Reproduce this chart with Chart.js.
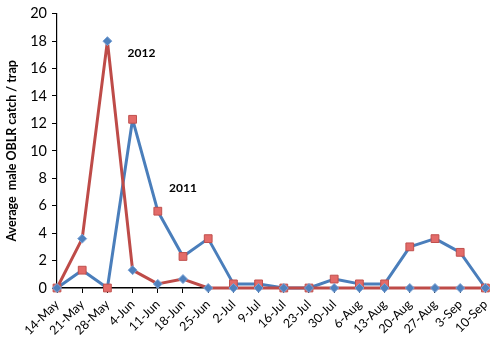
<!DOCTYPE html>
<html>
<head>
<meta charset="utf-8">
<script src="https://cdn.jsdelivr.net/npm/chart.js@4.4.1/dist/chart.umd.min.js"></script>
<style>
  html, body { margin: 0; padding: 0; background: #fff; }
  #wrap { position: relative; width: 500px; height: 342px; }
</style>
</head>
<body>
<div id="wrap"><canvas id="c" width="500" height="342"></canvas></div>
<script>
// Weekly trap dates
const weeks = ['14-May','21-May','28-May','4-Jun','11-Jun','18-Jun','25-Jun','2-Jul','9-Jul',
  '16-Jul','23-Jul','30-Jul','6-Aug','13-Aug','20-Aug','27-Aug','3-Sep','10-Sep'];

// Average male OBLR catch per trap
const catch2012 = [0, 3.6, 18, 1.3, 0.3, 0.65, 0, 0, 0, 0, 0, 0, 0, 0, 0, 0, 0, 0];
const catch2011 = [0, 1.3, 0, 12.3, 5.6, 2.3, 3.6, 0.3, 0.3, 0, 0, 0.65, 0.3, 0.3, 3, 3.6, 2.6, 0];

const yTicks = [0, 2, 4, 6, 8, 10, 12, 14, 16, 18, 20];

// Year labels placed beside their curves (category index, value)
const yearLabels = [
  { text: '2012', at: 3.35, value: 17.1 },
  { text: '2011', at: 5.0, value: 7.3 }
];

const yearLabelPlugin = {
  id: 'yearLabels',
  afterDatasetsDraw(chart) {
    const { ctx, scales: { x, y } } = chart;
    ctx.save();
    ctx.font = 'bold 12px Lato, "Open Sans", sans-serif';
    ctx.fillStyle = '#000';
    ctx.textAlign = 'center';
    ctx.textBaseline = 'middle';
    const step = x.getPixelForValue(1) - x.getPixelForValue(0);
    yearLabels.forEach(l => {
      const px = x.getPixelForValue(0) + l.at * step;
      ctx.fillText(l.text, px, y.getPixelForValue(l.value));
    });
    ctx.restore();
  }
};

new Chart(document.getElementById('c'), {
  type: 'line',
  data: {
    labels: weeks,
    datasets: [
      {
        label: '2012',
        data: catch2012,
        borderColor: '#be4b48',
        borderWidth: 3,
        borderJoinStyle: 'round',
        tension: 0,
        pointStyle: 'rectRot',
        pointRadius: 4.5,
        pointBackgroundColor: '#4f81bd',
        pointBorderColor: '#7ba3d6',
        pointBorderWidth: 1,
        clip: false
      },
      {
        label: '2011',
        data: catch2011,
        borderColor: '#4a7ebb',
        borderWidth: 3,
        borderJoinStyle: 'round',
        tension: 0,
        pointStyle: 'rect',
        pointRadius: 5.5,
        pointBackgroundColor: '#e36b69',
        pointBorderColor: '#c0504d',
        pointBorderWidth: 1,
        clip: false
      }
    ]
  },
  options: {
    responsive: false,
    animation: false,
    events: [],
    layout: { padding: { top: 9, right: 7, left: 0, bottom: 0 } },
    plugins: { legend: { display: false }, tooltip: { enabled: false } },
    scales: {
      x: {
        offset: false,
        grid: { drawOnChartArea: false, drawTicks: true, tickLength: 5, color: '#000' },
        border: { display: true, color: '#000', width: 1.5 },
        ticks: {
          autoSkip: false,
          maxRotation: 45,
          minRotation: 45,
          padding: 4,
          color: '#000',
          font: { family: 'Lato, "Open Sans", sans-serif', size: 12.5 }
        },
        afterFit(scale) { scale.height = 54; }
      },
      y: {
        min: 0,
        max: 20,
        afterBuildTicks(scale) { scale.ticks = yTicks.map(v => ({ value: v })); },
        grid: { drawOnChartArea: false, drawTicks: true, tickLength: 5, color: '#000' },
        border: { display: true, color: '#000', width: 1.2 },
        ticks: {
          padding: 5,
          color: '#000',
          font: { family: 'Lato, "Open Sans", sans-serif', size: 14.5 }
        },
        title: {
          display: true,
          text: 'Average  male OBLR catch / trap',
          align: 'center',
          color: '#000',
          padding: { top: 4, bottom: 0 },
          font: { family: 'Lato, "Open Sans", sans-serif', size: 12.5, weight: 'bold' }
        },
        afterFit(scale) { scale.width = 57; }
      }
    }
  },
  plugins: [yearLabelPlugin]
});
</script>
</body>
</html>
